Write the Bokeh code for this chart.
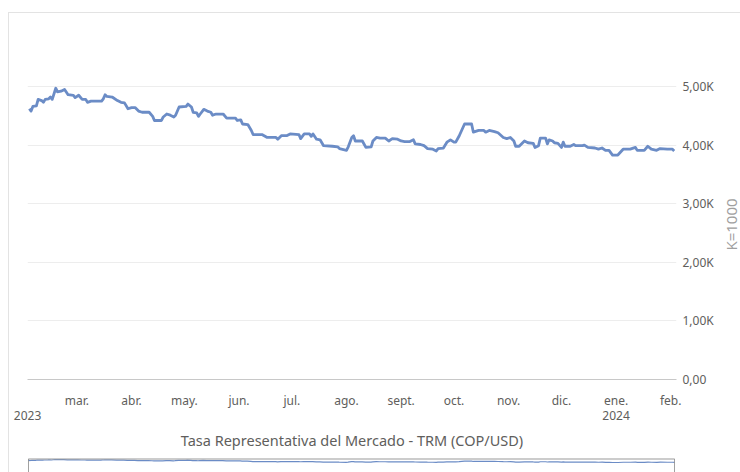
import pandas as pd
from bokeh.plotting import figure
from bokeh.layouts import column, row
from bokeh.models import Range1d, FixedTicker, ColumnDataSource, Span
from bokeh.embed import file_html
from bokeh.resources import INLINE

# ---- data ----
dates = [
    "2023-02-02", "2023-02-03", "2023-02-04", "2023-02-06", "2023-02-07", "2023-02-09", "2023-02-10",
    "2023-02-11", "2023-02-13", "2023-02-14", "2023-02-15", "2023-02-17", "2023-02-18", "2023-02-20",
    "2023-02-22", "2023-02-24", "2023-02-27", "2023-02-28", "2023-03-02", "2023-03-04", "2023-03-06",
    "2023-03-07", "2023-03-09", "2023-03-15", "2023-03-16", "2023-03-17", "2023-03-18", "2023-03-21",
    "2023-03-24", "2023-03-26", "2023-03-28", "2023-03-30", "2023-04-01", "2023-04-03", "2023-04-05",
    "2023-04-07", "2023-04-11", "2023-04-13", "2023-04-14", "2023-04-18", "2023-04-19", "2023-04-21",
    "2023-04-23", "2023-04-25", "2023-04-26", "2023-04-28", "2023-05-02", "2023-05-03", "2023-05-05",
    "2023-05-06", "2023-05-08", "2023-05-09", "2023-05-10", "2023-05-12", "2023-05-14", "2023-05-16",
    "2023-05-17", "2023-05-19", "2023-05-23", "2023-05-25", "2023-05-30", "2023-05-31", "2023-06-02",
    "2023-06-03", "2023-06-06", "2023-06-08", "2023-06-09", "2023-06-14", "2023-06-17", "2023-06-22",
    "2023-06-23", "2023-06-25", "2023-06-28", "2023-06-30", "2023-07-05", "2023-07-06", "2023-07-08",
    "2023-07-11", "2023-07-12", "2023-07-13", "2023-07-15", "2023-07-17", "2023-07-19", "2023-07-24",
    "2023-07-27", "2023-07-28", "2023-08-01", "2023-08-02", "2023-08-04", "2023-08-05", "2023-08-06",
    "2023-08-10", "2023-08-12", "2023-08-15", "2023-08-16", "2023-08-18", "2023-08-20", "2023-08-23",
    "2023-08-25", "2023-08-27", "2023-08-30", "2023-09-01", "2023-09-03", "2023-09-06", "2023-09-08",
    "2023-09-09", "2023-09-12", "2023-09-14", "2023-09-16", "2023-09-19", "2023-09-21", "2023-09-22",
    "2023-09-25", "2023-09-27", "2023-09-29", "2023-10-01", "2023-10-02", "2023-10-04", "2023-10-07",
    "2023-10-11", "2023-10-12", "2023-10-15", "2023-10-18", "2023-10-19", "2023-10-21", "2023-10-24",
    "2023-10-26", "2023-10-29", "2023-10-31", "2023-11-02", "2023-11-04", "2023-11-05", "2023-11-07",
    "2023-11-10", "2023-11-12", "2023-11-15", "2023-11-16", "2023-11-18", "2023-11-19", "2023-11-22",
    "2023-11-23", "2023-11-24", "2023-11-26", "2023-11-27", "2023-11-29", "2023-12-01", "2023-12-02",
    "2023-12-03", "2023-12-06", "2023-12-08", "2023-12-09", "2023-12-13", "2023-12-14", "2023-12-16",
    "2023-12-20", "2023-12-22", "2023-12-24", "2023-12-26", "2023-12-28", "2023-12-30", "2024-01-02",
    "2024-01-05", "2024-01-09", "2024-01-12", "2024-01-13", "2024-01-17", "2024-01-19", "2024-01-21",
    "2024-01-24", "2024-01-26", "2024-01-30", "2024-02-02", "2024-02-03",
]
trm = [
    4620, 4580, 4660, 4670, 4780, 4760, 4730,
    4780, 4790, 4820, 4780, 4970, 4910, 4920,
    4950, 4860, 4850, 4810, 4850, 4780, 4780,
    4730, 4750, 4750, 4790, 4860, 4830, 4820,
    4760, 4730, 4720, 4620, 4640, 4640, 4580,
    4560, 4560, 4490, 4420, 4420, 4480, 4530,
    4510, 4480, 4510, 4650, 4660, 4700, 4650,
    4560, 4550, 4490, 4530, 4610, 4580, 4560,
    4510, 4530, 4530, 4460, 4460, 4420, 4430,
    4360, 4350, 4250, 4180, 4180, 4130, 4130,
    4100, 4160, 4160, 4190, 4180, 4110, 4190,
    4190, 4150, 4190, 4100, 4090, 3990, 3980,
    3970, 3940, 3910, 3970, 4130, 4160, 4070,
    4070, 3960, 3970, 4070, 4130, 4120, 4120,
    4070, 4110, 4100, 4070, 4060, 4060, 4090,
    4020, 4010, 3990, 3940, 3930, 3900, 3940,
    3950, 4050, 4090, 4050, 4050, 4160, 4360,
    4360, 4220, 4250, 4250, 4220, 4250, 4230,
    4210, 4130, 4110, 4130, 4070, 3980, 3980,
    4070, 4040, 4030, 3960, 3990, 4120, 4120,
    4020, 4090, 4070, 4040, 4030, 3960, 4050,
    3980, 3980, 4010, 3990, 3990, 4000, 3960,
    3950, 3930, 3950, 3910, 3910, 3830, 3830,
    3930, 3930, 3960, 3910, 3910, 3980, 3930,
    3910, 3940, 3930, 3930, 3900,
]

month_ticks = ["2023-02-01", "2023-03-01", "2023-04-01", "2023-05-01", "2023-06-01", "2023-07-01",
               "2023-08-01", "2023-09-01", "2023-10-01", "2023-11-01", "2023-12-01", "2024-01-01",
               "2024-02-01"]
month_labels = ["", "mar.", "abr.", "may.", "jun.", "jul.", "ago.", "sept.", "oct.", "nov.", "dic.",
                "ene.", "feb."]
year_labels = {"2023-02-01": "2023", "2024-01-01": "2024"}

y_ticks = [0, 1000, 2000, 3000, 4000, 5000]
y_labels = ["0,00", "1,00K", "2,00K", "3,00K", "4,00K", "5,00K"]

x_title = "Tasa Representativa del Mercado - TRM (COP/USD)"
y_title = "K=1000"

# ---- build ----
def ms(d):
    return int(pd.Timestamp(d).value // 10**6)

src = ColumnDataSource(data=dict(x=pd.to_datetime(dates), y=trm))

x_range = Range1d(start=pd.Timestamp("2023-01-31 23:00"), end=pd.Timestamp("2024-02-04 07:00"))

FONT = "Noto Sans"
LINE_COLOR = "#6b8cc6"
TEXT = "#605e5c"

p = figure(
    x_axis_type="datetime", y_axis_location="right",
    x_range=x_range, y_range=Range1d(0, 6126),
    width=711, height=440,
    min_border_left=18, min_border_top=7, min_border_right=44, min_border_bottom=74,
    output_backend="svg", toolbar_location=None,
    background_fill_color="white", border_fill_color="white",
)
p.outline_line_color = None
p.line("x", "y", source=src, line_color=LINE_COLOR, line_width=2.8, line_join="round")

# x axis
xa = p.xaxis[0]
xa.ticker = FixedTicker(ticks=[ms(d) for d in month_ticks])
overrides = {}
for d, lab in zip(month_ticks, month_labels):
    if d in year_labels:
        lab = lab + "\n" + year_labels[d]
    overrides[ms(d)] = lab
xa.major_label_overrides = overrides
xa.major_tick_line_color = None
xa.minor_tick_line_color = None
xa.axis_line_color = "#c8c8c8"
xa.axis_line_width = 1
xa.major_label_standoff = 6
xa.major_label_text_line_height = 0.9
xa.major_label_text_font = FONT
xa.major_label_text_font_size = "12px"
xa.major_label_text_color = TEXT
xa.axis_label = x_title
xa.axis_label_text_font = FONT
xa.axis_label_text_font_size = "14.5px"
xa.axis_label_text_font_style = "normal"
xa.axis_label_text_color = TEXT
xa.axis_label_standoff = 3

# y axis (values)
ya = p.yaxis[0]
ya.ticker = FixedTicker(ticks=y_ticks)
ya.major_label_overrides = dict(zip(y_ticks, y_labels))
ya.major_tick_line_color = None
ya.minor_tick_line_color = None
ya.axis_line_color = None
ya.major_label_standoff = 0
ya.major_label_text_font = FONT
ya.major_label_text_font_size = "12px"
ya.major_label_text_color = TEXT

p.xgrid.grid_line_color = None
p.ygrid.grid_line_color = "#ededed"
p.ygrid.grid_line_width = 1

# narrow strip on the right that carries the y-axis title (reads bottom-to-top)
side = figure(
    width=20, height=440, x_range=Range1d(0, 1), y_range=Range1d(0, 1),
    min_border_left=19, min_border_right=0, min_border_top=161, min_border_bottom=179,
    x_axis_location=None, y_axis_location="left",
    output_backend="svg", toolbar_location=None,
)
side.outline_line_color = None
side.grid.visible = False
sa = side.yaxis[0]
sa.ticker = FixedTicker(ticks=[])
sa.axis_line_color = None
sa.major_tick_line_color = None
sa.minor_tick_line_color = None
sa.major_label_text_font_size = "0px"
sa.axis_label = y_title
sa.axis_label_standoff = 0
sa.axis_label_text_font = FONT
sa.axis_label_text_font_size = "15px"
sa.axis_label_text_font_style = "normal"
sa.axis_label_text_color = "#a0a0a0"

# navigator strip
nav_start, nav_end = pd.Timestamp(dates[0]), pd.Timestamp(dates[-1])
nav = figure(
    x_axis_type="datetime", x_range=Range1d(nav_start, nav_end), y_range=Range1d(30, 5350),
    width=731, height=19,
    min_border_left=19, min_border_right=66, min_border_top=5, min_border_bottom=0,
    x_axis_location=None, y_axis_location=None,
    output_backend="svg", toolbar_location=None,
)
nav.grid.visible = False
nav.outline_line_color = None
nav.line("x", "y", source=src, line_color=LINE_COLOR, line_width=1.2)
nav.add_layout(Span(location=5350, dimension="width", line_color="#9a9a9a", line_width=2))
nav.add_layout(Span(location=ms(dates[0]), dimension="height", line_color="#444444", line_width=1))
nav.add_layout(Span(location=ms(dates[-1]), dimension="height", line_color="#444444", line_width=1))

layout = column(row(p, column(side, spacing=0), spacing=0), nav, spacing=0, margin=(12, 0, 0, 8),
                styles={"border-top": "1px solid #e3e3e3", "border-left": "1px solid #e3e3e3"})

open("out.html", "w").write(file_html(layout, INLINE))
